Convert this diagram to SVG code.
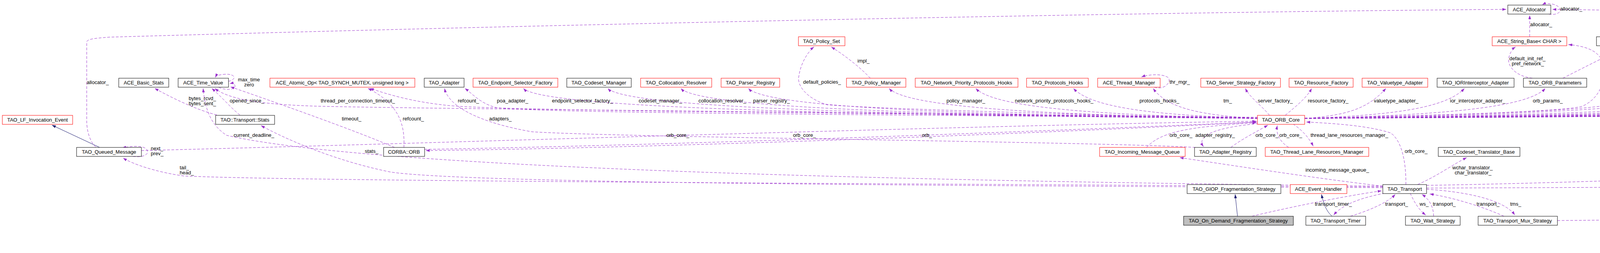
<svg xmlns="http://www.w3.org/2000/svg" width="6847" height="647" viewBox="0 0 6847 647">
<style>
text{font-family:"Liberation Sans",Arial,sans-serif;font-size:13px;fill:#000}
.n text{text-anchor:middle}
.b{fill:#fff;stroke:#000;stroke-width:1}
.r{fill:#fff;stroke:#f00;stroke-width:1}
.g{fill:#bfbfbf;stroke:#000;stroke-width:1}
.u{fill:none;stroke:#9a32cd;stroke-width:1;stroke-dasharray:7,4;marker-end:url(#pa)}
.i{fill:none;stroke:#191970;stroke-width:1;marker-end:url(#ia)}
</style>
<defs>
<marker id="pa" markerUnits="userSpaceOnUse" markerWidth="11" markerHeight="8" refX="10" refY="3.5" orient="auto"><path d="M0,0 L10,3.5 L0,7 z" fill="#9a32cd"/></marker>
<marker id="ia" markerUnits="userSpaceOnUse" markerWidth="11" markerHeight="8" refX="10" refY="3.5" orient="auto"><path d="M0,0 L10,3.5 L0,7 z" fill="#191970"/></marker>
</defs>
<rect width="6847" height="647" fill="#fff"/>
<g id="connectors">
<path class="i" d="M255,377 L133,320"/>
<path class="i" d="M3168,553 L3162,497"/>
<path class="i" d="M3410,553 C3395,540 3388,520 3383,497"/>
<path class="i" d="M5911,200 C6100,175 6350,130 6516,112"/>
<path class="u" d="M245,376 C228,360 222,330 222,310 L222,108 C222,100 240,98 280,95 C1500,60 3000,30 3856,24"/>
<path class="u" d="M555,294 C500,280 440,250 396,226"/>
<path class="u" d="M614,294 C595,280 565,245 542,226"/>
<path class="u" d="M3540,476 C2000,460 900,420 580,346 C540,320 525,280 520,226"/>
<path class="u" d="M3220,300 C2500,290 1200,280 830,272 C650,268 580,250 550,226"/>
<path class="u" d="M1010,377 C900,330 700,260 590,222"/>
<path class="u" d="M584,208 C605,205 606,188 575,190 C560,191 553,194 551,198"/>
<path class="u" d="M560,223 C575,232 610,230 600,216 C597,213 592,213 588,214"/>
<path class="u" d="M1034,377 C1036,330 1030,270 942,226"/>
<path class="u" d="M3220,301 C2500,292 1300,285 1150,270 C1050,260 990,240 947,226"/>
<path class="u" d="M3220,302 C2500,295 1350,290 1270,275 C1230,265 1210,240 1190,226"/>
<path class="u" d="M3060,377 C2800,362 1600,352 1362,337 C1250,318 1150,280 1138,226"/>
<path class="u" d="M3220,303 C2280,295 1390,280 1340,226"/>
<path class="u" d="M3220,303 C2388,295 1606,280 1556,226"/>
<path class="u" d="M3220,303 C2480,295 1793,280 1743,226"/>
<path class="u" d="M3220,303 C2568,295 1966,280 1916,226"/>
<path class="u" d="M3220,303 C2600,290 2200,275 2117,268 C2060,250 2040,215 2045,195 C2050,160 2070,130 2084,120"/>
<path class="u" d="M2228,200 C2200,170 2160,140 2128,120"/>
<path class="u" d="M3220,303 C2748,295 2326,280 2276,226"/>
<path class="u" d="M3220,303 C2860,295 2548,280 2498,226"/>
<path class="u" d="M3220,303 C2984,295 2798,280 2748,226"/>
<path class="u" d="M3220,303 C3085,295 2990,280 2952,226"/>
<path class="u" d="M2955,223 C2985,232 3000,205 2990,198 C2975,188 2940,190 2922,197"/>
<path class="u" d="M3250,295 C3230,270 3200,250 3188,226"/>
<path class="u" d="M3290,295 C3320,270 3345,250 3358,226"/>
<path class="u" d="M3340,303 C3444,295 3500,280 3548,226"/>
<path class="u" d="M3340,303 C3544,295 3699,280 3749,226"/>
<path class="u" d="M3340,303 C3648,295 3906,280 3956,226"/>
<path class="u" d="M3340,303 C3856,295 4323,280 4373,226"/>
<path class="u" d="M3340,303 C3958,295 4527,280 4577,226"/>
<path class="u" d="M3340,303 C4056,295 4723,280 4773,226"/>
<path class="u" d="M3340,303 C4152,295 4915,280 4965,226"/>
<path class="u" d="M3340,303 C4255,295 5121,280 5171,226"/>
<path class="u" d="M3340,303 C4348,295 5306,280 5356,226"/>
<path class="u" d="M3340,303 C4446,295 5502,280 5552,226"/>
<path class="u" d="M3340,303 C4568,295 5746,280 5796,226"/>
<path class="u" d="M3340,303 C4686,295 5983,280 6033,226"/>
<path class="u" d="M3340,303 C4770,295 6151,280 6201,226"/>
<path class="u" d="M3340,303 C4866,295 6343,280 6393,226"/>
<path class="u" d="M3340,302 C3700,295 4000,285 4050,272 C4100,250 4110,200 4105,170 C4100,130 4060,118 4015,114"/>
<path class="u" d="M3340,302 C3700,295 4080,285 4150,262 C4190,240 4205,160 4214,120"/>
<path class="u" d="M4001,200 C4040,180 4100,150 4160,120"/>
<path class="u" d="M3923,200 C3880,195 3860,170 3862,150 C3865,135 3872,125 3880,120"/>
<path class="u" d="M3916,94 L3916,39"/>
<path class="u" d="M4386,200 C4330,170 4290,140 4250,120"/>
<path class="u" d="M3965,36 C3985,40 4000,30 3992,20 C3985,10 3960,6 3948,12"/>
<path class="u" d="M6694,146 C6660,110 6620,90 6560,85 C5500,60 4500,30 3974,24"/>
<path class="u" d="M6745,170 C6780,180 6830,172 6830,158 C6830,140 6780,135 6742,145"/>
<path class="u" d="M3652,474 C4500,460 5500,400 6150,330 C6450,300 6540,280 6555,230 C6565,190 6563,150 6563,120"/>
<path class="u" d="M3987,564 C5000,555 6000,540 6500,525 C6580,522 6612,500 6612,480 L6612,200 C6612,160 6595,135 6580,120"/>
<path class="u" d="M3652,481 C4500,478 6000,470 6500,455 C6620,450 6680,300 6700,200 L6706,172"/>
<path class="u" d="M362,385 C1000,370 2500,320 3216,310"/>
<path class="u" d="M1087,382 C1800,370 2800,330 3216,312"/>
<path class="u" d="M3220,312 C2600,345 1600,380 1090,385"/>
<path class="u" d="M2935,377 C2960,350 3000,335 3080,325 C3150,318 3190,315 3216,314"/>
<path class="u" d="M3222,316 C3120,325 3060,345 3081,375"/>
<path class="u" d="M3151,377 C3180,355 3220,335 3246,320"/>
<path class="u" d="M3299,377 C3280,365 3265,345 3270,321"/>
<path class="u" d="M3310,317 C3330,330 3350,350 3362,374"/>
<path class="u" d="M3599,472 C3600,420 3590,360 3560,340 C3500,320 3400,315 3344,312"/>
<path class="u" d="M3629,472 C3680,450 3720,420 3755,403"/>
<path class="u" d="M3540,476 C3400,460 3200,430 3020,403"/>
<path class="u" d="M3540,478 C2500,470 800,465 470,450 C400,440 340,420 315,404"/>
<path class="u" d="M3540,480 C2500,475 1200,470 1000,440 C850,410 720,350 668,321"/>
<path class="u" d="M3545,494 C3490,505 3440,520 3414,550"/>
<path class="u" d="M3457,553 C3500,540 3550,520 3572,497"/>
<path class="u" d="M3205,553 C3300,530 3450,500 3537,488"/>
<path class="u" d="M3610,494 C3620,515 3630,535 3650,550"/>
<path class="u" d="M3670,553 C3670,530 3660,510 3640,497"/>
<path class="u" d="M3850,553 C3800,530 3720,505 3660,496"/>
<path class="u" d="M3652,484 C3750,490 3850,510 3878,550"/>
<path class="u" d="M340,400 C380,405 385,385 370,378 C360,373 340,373 313,378"/>
</g>
<g id="labels">
<text x="222" y="215">allocator_</text>
<text x="483" y="256">bytes_rcvd_</text><text x="483" y="269">bytes_sent_</text>
<text x="588" y="262">opened_since_</text>
<text x="598" y="350">current_deadline_</text>
<text x="821" y="262">thread_per_connection_timeout_</text>
<text x="875" y="308">timeout_</text>
<text x="609" y="208">max_time</text><text x="625" y="221">zero</text>
<text x="1031" y="308">refcount_</text>
<text x="1172" y="262">refcount_</text>
<text x="1272" y="262">poa_adapter_</text>
<text x="1252" y="308">adapters_</text>
<text x="1413" y="262">endpoint_selector_factory_</text>
<text x="1635" y="262">codeset_manager_</text>
<text x="1788" y="262">collocation_resolver_</text>
<text x="1928" y="262">parser_registry_</text>
<text x="2056" y="214">default_policies_</text>
<text x="2195" y="160">impl_</text>
<text x="2423" y="262">policy_manager_</text>
<text x="2598" y="262">network_priority_protocols_hooks_</text>
<text x="2917" y="262">protocols_hooks_</text>
<text x="2994" y="214">thr_mgr_</text>
<text x="3132" y="262">tm_</text>
<text x="3220" y="262">server_factory_</text>
<text x="3348" y="262">resource_factory_</text>
<text x="3517" y="262">valuetype_adapter_</text>
<text x="3712" y="262">ior_interceptor_adapter_</text>
<text x="3924" y="262">orb_params_</text>
<text x="3917" y="67">allocator_</text>
<text x="3864" y="154">default_init_ref_</text><text x="3870" y="167">pref_network_</text>
<text x="3994" y="27">allocator_</text>
<text x="4106" y="160">endpoints_map_</text>
<text x="4100" y="214">server_id_</text>
<text x="4188" y="214">init_ref_map_</text>
<text x="4337" y="160">table_</text>
<text x="4328" y="262">object_ref_table_</text>
<text x="4530" y="262">ft_service_</text>
<text x="4716" y="262">config_</text>
<text x="4899" y="262">tss_cleanup_funcs_</text>
<text x="5122" y="262">policy_current_</text>
<text x="5310" y="262">request_dispatcher_</text>
<text x="5516" y="262">flushing_strategy_</text>
<text x="5742" y="262">data_block_lock_</text>
<text x="5970" y="262">stub_factory_</text>
<text x="6154" y="262">bidir_adapter_</text>
<text x="6342" y="262">client_factory_</text>
<text x="6351" y="308">handler_lock_</text>
<text x="6612" y="350">lock_</text>
<text x="6679" y="308">partial_message_</text>
<text x="6318" y="67">message_block_allocator_</text>
<text x="6808" y="147">next_</text><text x="6808" y="161">prev_</text><text x="6808" y="174">cont_</text>
<text x="386" y="384">next_</text><text x="386" y="397">prev_</text>
<text x="460" y="433">tail_</text><text x="460" y="446">head_</text>
<text x="934" y="391">stats_</text>
<text x="1706" y="350">orb_core_</text>
<text x="1710" y="350"></text>
<text x="2030" y="350">orb_core_</text>
<text x="2360" y="350">orb_</text>
<text x="2994" y="350">orb_core_</text>
<text x="3060" y="350">adapter_registry_</text>
<text x="3214" y="350">orb_core_</text>
<text x="3275" y="350">orb_core_</text>
<text x="3355" y="350">thread_lane_resources_manager_</text>
<text x="3596" y="391">orb_core_</text>
<text x="3718" y="433">wchar_translator_</text><text x="3724" y="446">char_translator_</text>
<text x="3342" y="439">incoming_message_queue_</text>
<text x="3366" y="526">transport_timer_</text>
<text x="3546" y="526">transport_</text>
<text x="3634" y="526">ws_</text>
<text x="3668" y="526">transport_</text>
<text x="3780" y="526">transport_</text>
<text x="3866" y="526">tms_</text>
</g>
<g class="n">
<g id="n1"><rect class="r" x="6" y="295" width="180" height="23"/><text x="96" y="311">TAO_LF_Invocation_Event</text></g>
<g id="n2"><rect class="b" x="196" y="377" width="166" height="23"/><text x="279" y="393">TAO_Queued_Message</text></g>
<g id="n3"><rect class="b" x="304" y="200" width="128" height="23"/><text x="368" y="216">ACE_Basic_Stats</text></g>
<g id="n4"><rect class="b" x="456" y="200" width="129" height="23"/><text x="520" y="216">ACE_Time_Value</text></g>
<g id="n5"><rect class="b" x="552" y="295" width="151" height="23"/><text x="627" y="311">TAO::Transport::Stats</text></g>
<g id="n6"><rect class="r" x="691" y="200" width="371" height="23"/><text x="876" y="216">ACE_Atomic_Op&lt; TAO_SYNCH_MUTEX, unsigned long &gt;</text></g>
<g id="n7"><rect class="b" x="1086" y="200" width="102" height="23"/><text x="1137" y="216">TAO_Adapter</text></g>
<g id="n8"><rect class="b" x="982" y="377" width="105" height="23"/><text x="1034" y="393">CORBA::ORB</text></g>
<g id="n9"><rect class="r" x="1211" y="200" width="217" height="23"/><text x="1319" y="216">TAO_Endpoint_Selector_Factory</text></g>
<g id="n10"><rect class="b" x="1451" y="200" width="165" height="23"/><text x="1533" y="216">TAO_Codeset_Manager</text></g>
<g id="n11"><rect class="r" x="1640" y="200" width="182" height="23"/><text x="1731" y="216">TAO_Collocation_Resolver</text></g>
<g id="n12"><rect class="r" x="1846" y="200" width="150" height="23"/><text x="1921" y="216">TAO_Parser_Registry</text></g>
<g id="n13"><rect class="r" x="2044" y="94" width="119" height="23"/><text x="2103" y="110">TAO_Policy_Set</text></g>
<g id="n14"><rect class="r" x="2167" y="200" width="152" height="23"/><text x="2243" y="216">TAO_Policy_Manager</text></g>
<g id="n15"><rect class="r" x="2343" y="200" width="263" height="23"/><text x="2474" y="216">TAO_Network_Priority_Protocols_Hooks</text></g>
<g id="n16"><rect class="r" x="2628" y="200" width="158" height="23"/><text x="2707" y="216">TAO_Protocols_Hooks</text></g>
<g id="n17"><rect class="r" x="2810" y="200" width="160" height="23"/><text x="2890" y="216">ACE_Thread_Manager</text></g>
<g id="n18"><rect class="r" x="2815" y="377" width="219" height="23"/><text x="2924" y="393">TAO_Incoming_Message_Queue</text></g>
<g id="n19"><rect class="r" x="3074" y="200" width="204" height="23"/><text x="3176" y="216">TAO_Server_Strategy_Factory</text></g>
<g id="n20"><rect class="r" x="3300" y="200" width="164" height="23"/><text x="3382" y="216">TAO_Resource_Factory</text></g>
<g id="n21"><rect class="r" x="3219" y="295" width="121" height="23"/><text x="3279" y="311">TAO_ORB_Core</text></g>
<g id="n22"><rect class="b" x="3058" y="377" width="158" height="23"/><text x="3137" y="393">TAO_Adapter_Registry</text></g>
<g id="n23"><rect class="r" x="3239" y="377" width="265" height="23"/><text x="3371" y="393">TAO_Thread_Lane_Resources_Manager</text></g>
<g id="n24"><rect class="b" x="3039" y="472" width="240" height="23"/><text x="3159" y="488">TAO_GIOP_Fragmentation_Strategy</text></g>
<g id="n25"><rect class="r" x="3303" y="472" width="145" height="23"/><text x="3375" y="488">ACE_Event_Handler</text></g>
<g id="n26"><rect class="g" x="3030" y="553" width="281" height="23"/><text x="3170" y="569">TAO_On_Demand_Fragmentation_Strategy</text></g>
<g id="n27"><rect class="b" x="3343" y="553" width="153" height="23"/><text x="3419" y="569">TAO_Transport_Timer</text></g>
<g id="n28"><rect class="b" x="3860" y="13" width="110" height="23"/><text x="3915" y="29">ACE_Allocator</text></g>
<g id="n29"><rect class="r" x="3820" y="94" width="191" height="23"/><text x="3915" y="110">ACE_String_Base&lt; CHAR &gt;</text></g>
<g id="n30"><rect class="r" x="3487" y="200" width="168" height="23"/><text x="3571" y="216">TAO_Valuetype_Adapter</text></g>
<g id="n31"><rect class="b" x="3679" y="200" width="197" height="23"/><text x="3777" y="216">TAO_IORInterceptor_Adapter</text></g>
<g id="n32"><rect class="b" x="3900" y="200" width="162" height="23"/><text x="3981" y="216">TAO_ORB_Parameters</text></g>
<g id="n33"><rect class="b" x="3682" y="377" width="209" height="23"/><text x="3786" y="393">TAO_Codeset_Translator_Base</text></g>
<g id="n34"><rect class="b" x="3540" y="472" width="112" height="23"/><text x="3596" y="488">TAO_Transport</text></g>
<g id="n35"><rect class="b" x="3598" y="553" width="140" height="23"/><text x="3668" y="569">TAO_Wait_Strategy</text></g>
<g id="n36"><rect class="b" x="3784" y="553" width="203" height="23"/><text x="3885" y="569">TAO_Transport_Mux_Strategy</text></g>
<g id="n37"><rect class="b" x="4087" y="94" width="264" height="23"/><text x="4219" y="110">ACE_Array_Map&lt; Key, Value, EqualTo &gt;</text></g>
<g id="n38"><rect class="b" x="4324" y="200" width="162" height="23"/><text x="4405" y="216">TAO_Object_Ref_Table</text></g>
<g id="n39"><rect class="r" x="4508" y="200" width="203" height="23"/><text x="4609" y="216">TAO_Fault_Tolerance_Service</text></g>
<g id="n40"><rect class="r" x="4735" y="200" width="152" height="23"/><text x="4811" y="216">ACE_Service_Gestalt</text></g>
<g id="n41"><rect class="r" x="4911" y="200" width="197" height="23"/><text x="5009" y="216">TAO_Cleanup_Func_Registry</text></g>
<g id="n42"><rect class="r" x="5132" y="200" width="144" height="23"/><text x="5204" y="216">TAO_Policy_Current</text></g>
<g id="n43"><rect class="b" x="5300" y="200" width="176" height="23"/><text x="5388" y="216">TAO_Request_Dispatcher</text></g>
<g id="n44"><rect class="b" x="5500" y="200" width="164" height="23"/><text x="5582" y="216">TAO_Flushing_Strategy</text></g>
<g id="n45"><rect class="b" x="5687" y="200" width="296" height="23"/><text x="5835" y="216">ACE_Lock_Adapter&lt; TAO_SYNCH_MUTEX &gt;</text></g>
<g id="n46"><rect class="r" x="6007" y="200" width="135" height="23"/><text x="6074" y="216">TAO_Stub_Factory</text></g>
<g id="n47"><rect class="r" x="6164" y="200" width="139" height="23"/><text x="6233" y="216">TAO_BiDir_Adapter</text></g>
<g id="n48"><rect class="r" x="6327" y="200" width="199" height="23"/><text x="6426" y="216">TAO_Client_Strategy_Factory</text></g>
<g id="n49"><rect class="b" x="6519" y="94" width="85" height="23"/><text x="6561" y="110">ACE_Lock</text></g>
<g id="n50"><rect class="r" x="6632" y="147" width="152" height="23"/><text x="6708" y="163">ACE_Message_Block</text></g>
</g>
</svg>
